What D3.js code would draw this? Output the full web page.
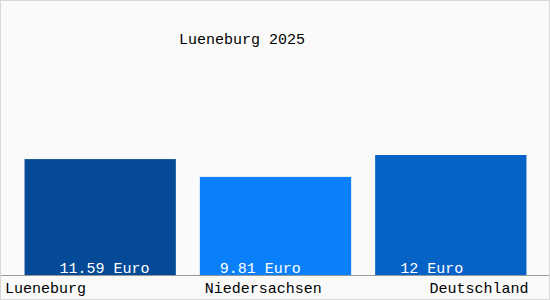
<!DOCTYPE html>
<html>
<head>
<meta charset="utf-8">
<script src="https://cdn.jsdelivr.net/npm/d3@7"></script>
<style>
  html, body { margin: 0; padding: 0; background: #fff; }
  svg { display: block; }
  text { font-family: "Liberation Mono", "DejaVu Sans Mono", monospace; font-size: 15px; }
</style>
</head>
<body>
<svg id="chart"></svg>
<script>
// chart data
const title = 'Lueneburg 2025';
const categories = ['Lueneburg', 'Niedersachsen', 'Deutschland'];
const values = [11.59, 9.81, 12];
const valueLabels = ['11.59 Euro', '9.81 Euro', '12 Euro'];
const colors = ['#044a96', '#0a7ffa', '#0562c6'];

const width = 550, height = 300;
const baseline = 275;

const svg = d3.select('#chart').attr('width', width).attr('height', height);

// background + thin border
svg.append('rect')
  .attr('x', 0.5).attr('y', 0.5)
  .attr('width', width - 1).attr('height', height - 1)
  .attr('fill', '#fafafa')
  .attr('stroke', '#d8d8d8');

const x = d3.scaleBand()
  .domain(categories)
  .range([0, 551])
  .paddingInner(0.137)
  .paddingOuter(0.14);

const y = d3.scaleLinear()
  .domain([0, 12])
  .range([baseline, 155]);

svg.append('g')
  .selectAll('rect')
  .data(values)
  .join('rect')
  .attr('x', (d, i) => x(categories[i]))
  .attr('y', d => y(d))
  .attr('width', x.bandwidth())
  .attr('height', d => baseline - y(d))
  .attr('fill', (d, i) => colors[i]);

// value labels inside bars (shifts)
const labelShift = [35, 20, 25];
svg.append('g')
  .selectAll('text')
  .data(valueLabels)
  .join('text')
  .attr('x', (d, i) => x(categories[i]) + labelShift[i])
  .attr('y', baseline - 2)
  .attr('fill', '#fff')
  .text(d => d);

// baseline
svg.append('line')
  .attr('x1', 1).attr('x2', width - 1)
  .attr('y1', baseline + 0.5).attr('y2', baseline + 0.5)
  .attr('stroke', '#999');

// category labels: first left, middle near bar, last right aligned
svg.append('g')
  .selectAll('text')
  .data(categories)
  .join('text')
  .attr('x', (d, i) => i === 0 ? 5 : i === categories.length - 1 ? x(d) + x.bandwidth() + 2 : x(d) + 5)
  .attr('y', 293)
  .attr('text-anchor', (d, i) => i === categories.length - 1 ? 'end' : 'start')
  .attr('fill', '#000')
  .text(d => d);

svg.append('text')
  .attr('x', 179)
  .attr('y', 44)
  .attr('fill', '#000')
  .text(title);
</script>
</body>
</html>
